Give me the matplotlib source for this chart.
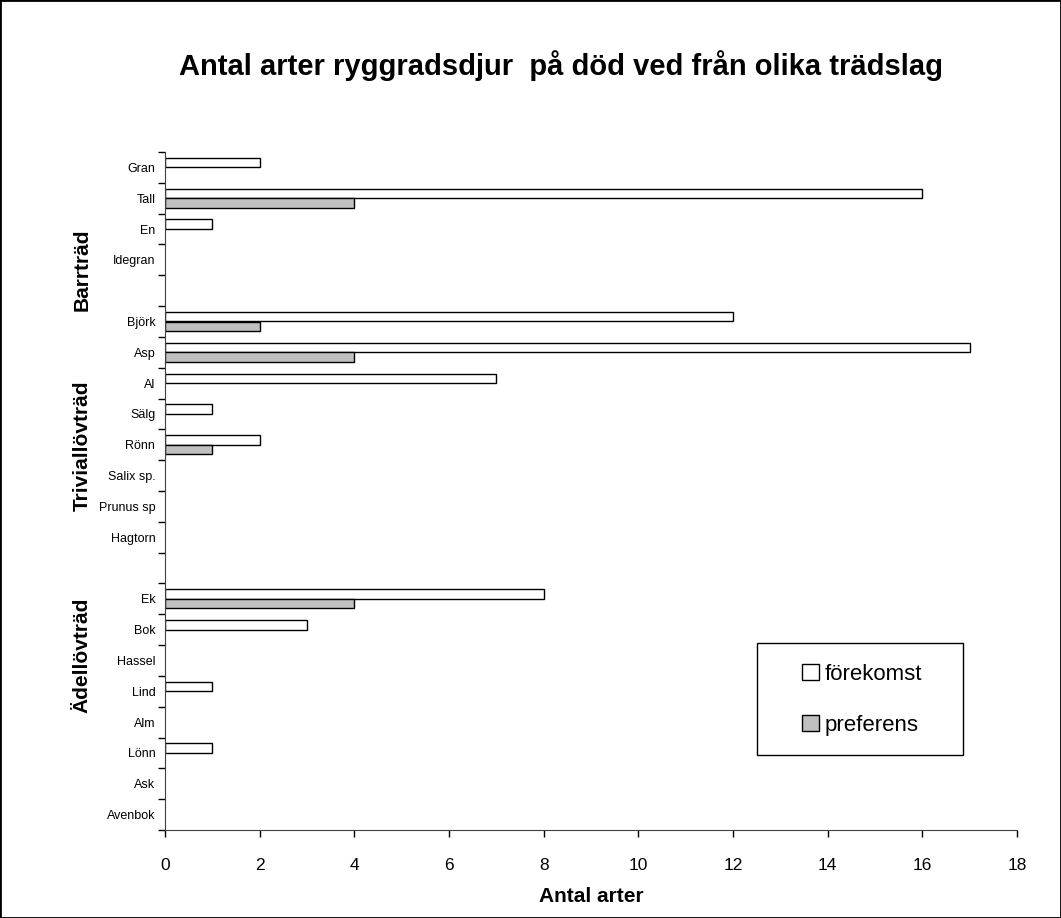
import matplotlib.pyplot as plt
import numpy as np
from matplotlib.patches import Patch, Rectangle

plt.rcParams['font.family'] = ['Liberation Sans', 'DejaVu Sans']

# tree species, top to bottom; empty strings separate the three groups
species = ['Gran', 'Tall', 'En', 'Idegran', '',
           'Björk', 'Asp', 'Al', 'Sälg', 'Rönn', 'Salix sp.', 'Prunus sp', 'Hagtorn', '',
           'Ek', 'Bok', 'Hassel', 'Lind', 'Alm', 'Lönn', 'Ask', 'Avenbok']
forekomst = [2, 16, 1, 0, 0,
             12, 17, 7, 1, 2, 0, 0, 0, 0,
             8, 3, 0, 1, 0, 1, 0, 0]
preferens = [0, 4, 0, 0, 0,
             2, 4, 0, 0, 1, 0, 0, 0, 0,
             4, 0, 0, 0, 0, 0, 0, 0]
groups = ['Barrträd', 'Triviallövträd', 'Ädellövträd']
group_y = [270, 446, 655]  # label centres, pixels from top

W, H = 1061, 918
fig = plt.figure(figsize=(W / 100, H / 100), dpi=100)
ax = fig.add_axes([165 / W, 1 - 830 / H, (1017 - 165) / W, (830 - 152) / H])

y = np.arange(len(species))
bh = 0.31
# no outline on empty bars, otherwise a line shows at zero
lw_f = [1 if v else 0 for v in forekomst]
lw_p = [1 if v else 0 for v in preferens]
ax.barh(y - bh / 2, forekomst, height=bh, color='white', edgecolor='black',
        linewidth=lw_f)
ax.barh(y + bh / 2, preferens, height=bh, color='#c0c0c0', edgecolor='black',
        linewidth=lw_p)

ax.set_ylim(len(species) - 0.5, -0.5)
ax.set_xlim(0, 18)
ax.set_xticks(np.arange(0, 19, 2))
ax.tick_params(axis='x', labelsize=12.5, length=5, width=1, pad=15)

ax.set_yticks(y)
ax.set_yticklabels(species, fontsize=9)
ax.set_yticks(np.arange(len(species) + 1) - 0.5, minor=True)
ax.tick_params(axis='y', which='major', length=0, pad=7)
ax.tick_params(axis='y', which='minor', length=5, width=1)

for s in ['top', 'right']:
    ax.spines[s].set_visible(False)
ax.spines['left'].set_color('#404040')
ax.spines['bottom'].set_color('#404040')

fig.text(591 / W, 1 - 896 / H, 'Antal arter', ha='center', va='center',
         fontsize=15, fontweight='bold')
fig.text(561 / W, 1 - 66 / H, 'Antal arter ryggradsdjur  på död ved från olika trädslag',
         ha='center', va='center', fontsize=21, fontweight='bold')
for g, gy in zip(groups, group_y):
    fig.text(82 / W, 1 - gy / H, g, rotation=90, ha='center', va='center',
             fontsize=15, fontweight='bold')

# legend box
fig.patches.append(Rectangle((757 / W, 1 - 755 / H), 206 / W, 112 / H,
                             transform=fig.transFigure, facecolor='white',
                             edgecolor='black', linewidth=1, zorder=5))
handles = [Patch(facecolor='white', edgecolor='black', linewidth=1, label='förekomst'),
           Patch(facecolor='#c0c0c0', edgecolor='black', linewidth=1, label='preferens')]
leg = fig.legend(handles=handles, loc='center', bbox_to_anchor=(862 / W, 1 - 700 / H),
                 frameon=False, fontsize=16, handlelength=0.75, handleheight=0.75,
                 handletextpad=0.25, labelspacing=1.35)
leg.set_zorder(6)

# outer border
fig.patches.append(Rectangle((0, 0), 1, 1, transform=fig.transFigure,
                             facecolor='none', edgecolor='black', linewidth=2))

fig.savefig('out.png', dpi=100)
